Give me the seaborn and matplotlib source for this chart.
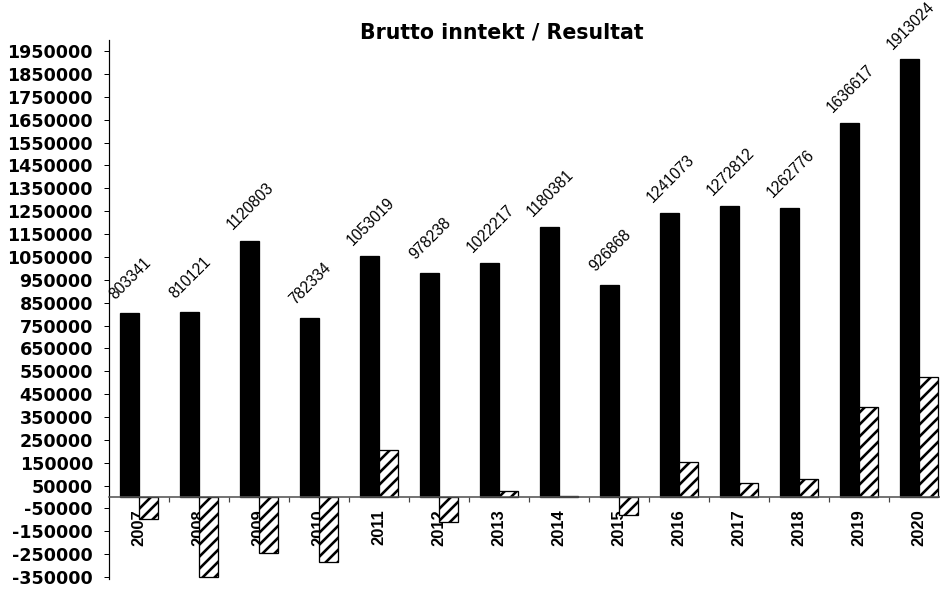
import numpy as np
import pandas as pd
import matplotlib
matplotlib.use("Agg")
import matplotlib.pyplot as plt
from matplotlib.ticker import FixedLocator
import seaborn as sns

years = ['2007', '2008', '2009', '2010', '2011', '2012', '2013',
         '2014', '2015', '2016', '2017', '2018', '2019', '2020']
brutto = [803341, 810121, 1120803, 782334, 1053019, 978238, 1022217,
          1180381, 926868, 1241073, 1272812, 1262776, 1636617, 1913024]
resultat = [-95000, -348000, -243000, -285000, 204000, -109000, 26000,
            3000, -77000, 152000, 61000, 81000, 394000, 525000]
series_names = ['Brutto inntekt', 'Resultat']
title = 'Brutto inntekt / Resultat'
yticks = list(range(-350000, 1950001, 100000))

df = pd.DataFrame({
    'year': years * 2,
    'value': brutto + resultat,
    'series': [series_names[0]] * len(years) + [series_names[1]] * len(years),
})

sns.set_theme(style='white')
plt.rcParams['font.family'] = ['DejaVu Sans']
plt.rcParams['hatch.linewidth'] = 2.6
for k in ['text.color', 'axes.labelcolor', 'xtick.color', 'ytick.color']:
    plt.rcParams[k] = 'black'

DPI = 72
fig = plt.figure(figsize=(940 / DPI, 589 / DPI), dpi=DPI)
ax = fig.add_axes([109 / 940, 1 - 579.4 / 589, 840 / 940, 539.8 / 589])

sns.barplot(data=df, x='year', y='value', hue='series', order=years,
            hue_order=series_names, palette=['black', 'white'],
            width=0.62, gap=0, dodge=True, edgecolor='black', linewidth=1.3,
            legend=False, ax=ax, saturation=1)

# hatch the Resultat bars
for p in ax.containers[1]:
    p.set_hatch('//')
    p.set_edgecolor('black')
    p.set_facecolor('white')

ax.set_xlim(-0.5, 13.5)
ax.set_ylim(-360000, 2000000)

# spines first (set_position resets tick styling)
ax.spines['top'].set_visible(False)
ax.spines['right'].set_visible(False)
ax.spines['left'].set_color('black')
ax.spines['left'].set_linewidth(1.2)
ax.spines['bottom'].set_position(('data', 0))
ax.spines['bottom'].set_color('#555555')
ax.spines['bottom'].set_linewidth(1.6)

# value labels for Brutto bars
for i, v in enumerate(brutto):
    ax.text(i - 0.14, v + 150000, str(v), rotation=45, ha='center', va='center',
            rotation_mode='anchor', fontsize=15.5, color='black',
            family='Liberation Sans', clip_on=False)

ax.set_yticks(yticks)
ax.set_yticklabels([str(t) for t in yticks], fontsize=17.5, fontweight='bold',
                   family='DejaVu Sans')
ax.tick_params(axis='y', direction='out', length=5, width=1, color='black',
               left=True, pad=11)

ax.set_xticks(range(len(years)))
ax.set_xticklabels(years, rotation=90, fontsize=16.5, fontweight='bold',
                   family='Liberation Sans', va='top', ha='center')
ax.xaxis.set_minor_locator(FixedLocator(np.arange(0.5, 13.5, 1.0)))
ax.tick_params(axis='x', which='major', length=0, pad=12, bottom=True)
ax.tick_params(axis='x', which='minor', direction='out', length=5, width=1.2,
               color='#444444', bottom=True)

ax.set_xlabel('')
ax.set_ylabel('')
ax.grid(False)

fig.text(502 / 940, 1 - 32 / 589, title, ha='center', va='center',
         fontsize=20.5, fontweight='bold', family='DejaVu Sans')

fig.savefig('out.png', dpi=DPI)
